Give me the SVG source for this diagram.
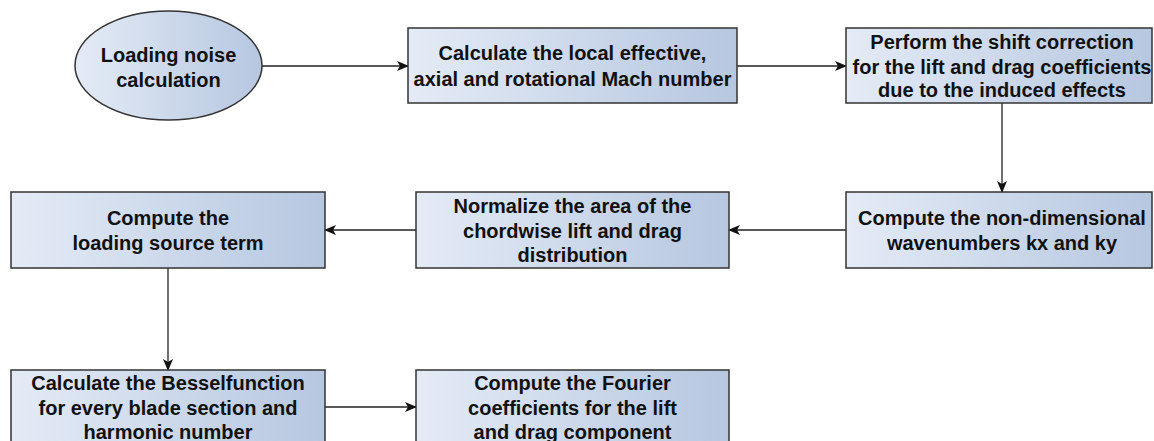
<svg xmlns="http://www.w3.org/2000/svg" width="1154" height="441" viewBox="0 0 1154 441">
  <defs>
    <linearGradient id="fillGrad" x1="0" y1="0" x2="1" y2="0">
      <stop offset="0" stop-color="#e4ebf6"/>
      <stop offset="1" stop-color="#b6c7e0"/>
    </linearGradient>
    <marker id="arrow" viewBox="0 0 12 10" refX="11" refY="5" markerWidth="12" markerHeight="10" markerUnits="userSpaceOnUse" orient="auto">
      <path d="M0,0 L12,5 L0,10 L3,5 Z" fill="#111"/>
    </marker>
    <style>
      .node { fill: url(#fillGrad); stroke: #333; stroke-width: 1.5; }
      .label { font-family: "Liberation Sans", Arial, sans-serif; font-size: 20px; font-weight: bold; fill: #111; text-anchor: middle; }
      .edge { fill: none; stroke: #222; stroke-width: 1.3; marker-end: url(#arrow); }
    </style>
  </defs>
  <rect width="1154" height="441" fill="#ffffff"/>

  <g id="connectors">
    <path class="edge" d="M262,66 L408,66"/>
    <path class="edge" d="M737,66 L846,66"/>
    <path class="edge" d="M1002,103 L1002,192"/>
    <path class="edge" d="M846,230 L729,230"/>
    <path class="edge" d="M416,230 L325,230"/>
    <path class="edge" d="M168,268 L168,370"/>
    <path class="edge" d="M325,407 L416,407"/>
  </g>

  <g id="start">
    <ellipse class="node" cx="168.5" cy="65.5" rx="93.5" ry="54.5"/>
    <text class="label" x="168.5" y="62">Loading noise</text>
    <text class="label" x="168.5" y="87">calculation</text>
  </g>

  <g id="mach">
    <rect class="node" x="408" y="28" width="329" height="75"/>
    <text class="label" x="572.5" y="60">Calculate the local effective,</text>
    <text class="label" x="572.5" y="86">axial and rotational Mach number</text>
  </g>

  <g id="shift">
    <rect class="node" x="846" y="28" width="306" height="75"/>
    <text class="label" x="1002" y="49">Perform the shift correction</text>
    <text class="label" x="1002" y="74">for the lift and drag coefficients</text>
    <text class="label" x="1002" y="97">due to the induced effects</text>
  </g>

  <g id="wavenumbers">
    <rect class="node" x="846" y="192" width="306" height="76"/>
    <text class="label" x="1002" y="225">Compute the non-dimensional</text>
    <text class="label" x="1002" y="250">wavenumbers kx and ky</text>
  </g>

  <g id="normalize">
    <rect class="node" x="416" y="192" width="313" height="76"/>
    <text class="label" x="572.5" y="213">Normalize the area of the</text>
    <text class="label" x="572.5" y="238">chordwise lift and drag</text>
    <text class="label" x="572.5" y="262">distribution</text>
  </g>

  <g id="source">
    <rect class="node" x="11" y="192" width="314" height="76"/>
    <text class="label" x="168" y="225">Compute the</text>
    <text class="label" x="168" y="250">loading source term</text>
  </g>

  <g id="bessel">
    <rect class="node" x="11" y="370" width="314" height="76"/>
    <text class="label" x="168" y="390">Calculate the Besselfunction</text>
    <text class="label" x="168" y="415">for every blade section and</text>
    <text class="label" x="168" y="439">harmonic number</text>
  </g>

  <g id="fourier">
    <rect class="node" x="416" y="370" width="313" height="76"/>
    <text class="label" x="572.5" y="390">Compute the Fourier</text>
    <text class="label" x="572.5" y="415">coefficients for the lift</text>
    <text class="label" x="572.5" y="439">and drag component</text>
  </g>
</svg>
